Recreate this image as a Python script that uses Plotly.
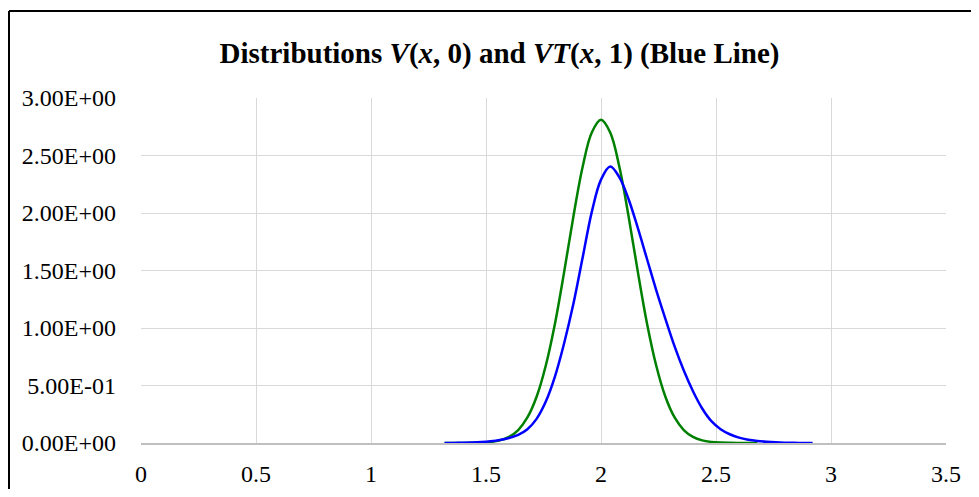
import plotly.graph_objects as go

# Green curve V(x, 0)
green_x = [1.32, 1.36, 1.40, 1.44, 1.48, 1.52, 1.56, 1.60, 1.64, 1.68, 1.72, 1.76,
           1.80, 1.84, 1.88, 1.92, 1.96, 2.00, 2.04, 2.08, 2.12, 2.16, 2.20, 2.24,
           2.28, 2.32, 2.36, 2.40, 2.44, 2.48, 2.52, 2.56, 2.60, 2.64, 2.68]
green_y = [0.00003, 0.0001, 0.0004, 0.0012, 0.0034, 0.0093, 0.023, 0.053, 0.113, 0.222, 0.402, 0.674,
           1.04, 1.49, 1.97, 2.40, 2.70, 2.81, 2.70, 2.40, 1.97, 1.49, 1.04, 0.674,
           0.402, 0.222, 0.113, 0.053, 0.023, 0.0093, 0.0034, 0.0012, 0.0004, 0.0001, 0.00003]

# Blue curve VT(x, 1)
blue_x = [1.32, 1.36, 1.40, 1.44, 1.48, 1.52, 1.56, 1.60, 1.64, 1.68, 1.72, 1.76,
          1.80, 1.84, 1.88, 1.92, 1.96, 2.00, 2.04, 2.08, 2.12, 2.16, 2.20, 2.24,
          2.28, 2.32, 2.36, 2.40, 2.44, 2.48, 2.52, 2.56, 2.60, 2.64, 2.68, 2.72,
          2.76, 2.80, 2.84, 2.88, 2.92]
blue_y = [0.0005, 0.001, 0.002, 0.004, 0.008, 0.015, 0.026, 0.043, 0.071, 0.12, 0.21, 0.36,
          0.58, 0.87, 1.21, 1.61, 2.01, 2.29, 2.405, 2.31, 2.12, 1.87, 1.60, 1.33,
          1.08, 0.84, 0.63, 0.45, 0.30, 0.19, 0.12, 0.076, 0.047, 0.029, 0.018, 0.011,
          0.006, 0.003, 0.0015, 0.0007, 0.0003]

x_ticks = [0, 0.5, 1, 1.5, 2, 2.5, 3, 3.5]
x_tick_text = ["0", "0.5", "1", "1.5", "2", "2.5", "3", "3.5"]
y_ticks = [0, 0.5, 1.0, 1.5, 2.0, 2.5, 3.0]
y_tick_text = ["0.00E+00", "5.00E-01", "1.00E+00", "1.50E+00", "2.00E+00", "2.50E+00", "3.00E+00"]

title_text = ("Distributions <i>V</i>(<i>x</i>, 0) and <i>VT</i>(<i>x</i>, 1) (Blue Line)")

FONT = "Liberation Serif"
W, H = 963, 481  # fits inside the window together with the page's 8px body margin

fig = go.Figure()
fig.add_trace(go.Scatter(x=green_x, y=green_y, mode="lines",
                         line=dict(color="#008000", width=2.5, shape="spline", smoothing=1.0),
                         showlegend=False, hoverinfo="skip"))
fig.add_trace(go.Scatter(x=blue_x, y=blue_y, mode="lines",
                         line=dict(color="#0000ff", width=2.5, shape="spline", smoothing=1.0),
                         showlegend=False, hoverinfo="skip"))

top_y = (435 - 3) / 345
left_x = (1 - 133) / 805

fig.update_layout(
    width=W, height=H,
    margin=dict(l=133, r=25, t=90, b=46),
    paper_bgcolor="white", plot_bgcolor="white",
    font=dict(family=FONT, color="black", size=24),
    title=dict(text=title_text, x=491.5 / W, xref="container", xanchor="center",
               y=1 - 45 / H, yref="container", yanchor="middle",
               font=dict(family=FONT, size=29, color="black", weight="bold")),
    xaxis=dict(range=[0, 3.5], tickvals=x_ticks, ticktext=x_tick_text,
               showgrid=True, gridcolor="#d9d9d9", gridwidth=1.3,
               zeroline=False, showline=True, linecolor="#bfbfbf", linewidth=1.5,
               ticks="", ticklabelstandoff=8, automargin=False,
               tickfont=dict(family=FONT, size=24, color="black")),
    yaxis=dict(range=[0, 3], tickvals=y_ticks, ticktext=y_tick_text,
               showgrid=True, gridcolor="#d9d9d9", gridwidth=1.3,
               zeroline=False, showline=False,
               ticks="", ticklabelstandoff=24, automargin=False,
               tickfont=dict(family=FONT, size=24, color="black")),
    shapes=[
        dict(type="line", xref="paper", yref="paper",
             x0=left_x, x1=1.2, y0=top_y, y1=top_y,
             line=dict(color="black", width=2), layer="above"),
        dict(type="line", xref="paper", yref="paper",
             x0=left_x, x1=left_x, y0=-0.5, y1=top_y,
             line=dict(color="black", width=2), layer="above"),
    ],
)

fig.write_html("out.html")
